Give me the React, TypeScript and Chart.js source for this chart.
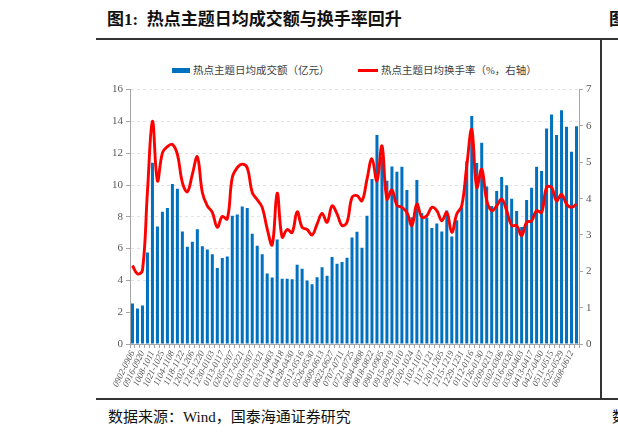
import React, { useEffect, useRef } from "react";
import { Chart, registerables } from "chart.js";

Chart.register(...registerables);

// 周度区间（每隔一周标注一次）
const weeks: string[] = [
  "0902-0906", "0909-0913", "0916-0920", "0923-0930", "1008-1011", "1014-1018", "1021-1025", "1028-1101", "1104-1108", "1111-1115",
  "1118-1122", "1125-1129", "1202-1206", "1209-1213", "1216-1220", "1223-1227", "1230-0103", "0106-0110", "0113-0117", "0120-0127",
  "0205-0207", "0210-0214", "0217-0221", "0224-0228", "0303-0307", "0310-0314", "0317-0321", "0324-0328", "0331-0403", "0407-0411",
  "0414-0418", "0421-0425", "0428-0430", "0506-0509", "0512-0516", "0519-0523", "0526-0530", "0603-0606", "0609-0613", "0616-0620",
  "0623-0627", "0630-0704", "0707-0711", "0714-0718", "0721-0725", "0728-0801", "0804-0808", "0811-0815", "0818-0822", "0825-0829",
  "0901-0905", "0908-0912", "0915-0919", "0922-0926", "0929-1010", "1013-1017", "1020-1024", "1027-1031", "1103-1107", "1110-1114",
  "1117-1121", "1124-1128", "1201-1205", "1208-1212", "1215-1219", "1222-1226", "1229-1231", "0105-0109", "0112-0116", "0119-0123",
  "0126-0130", "0202-0206", "0209-0213", "0224-0227", "0302-0306", "0309-0313", "0316-0320", "0323-0327", "0330-0403", "0407-0410",
  "0413-0417", "0420-0424", "0427-0430", "0506-0508", "0511-0515", "0518-0522", "0525-0529", "0601-0605", "0608-0612", "0615-0618",
];

// 热点主题日均成交额（亿元）
const dailyAmount: number[] = [
  2.55, 2.23, 2.42, 5.76, 11.4, 7.39, 8.31, 8.56, 10.06, 9.77,
  7.08, 6.12, 6.43, 7.22, 6.14, 5.95, 5.64, 4.78, 5.41, 5.51,
  8.06, 8.14, 8.64, 8.56, 6.93, 6.18, 5.64, 4.43, 4.18, 6.58,
  4.11, 4.11, 4.07, 4.99, 4.74, 3.99, 3.76, 4.2, 4.82, 4.3,
  5.47, 5.05, 5.16, 5.43, 6.7, 7.06, 6.05, 8.06, 10.38, 13.15,
  11.77, 10.27, 11.17, 10.84, 11.15, 9.69, 7.97, 10.31, 8.23, 7.95,
  7.29, 7.58, 7.08, 8.39, 6.76, 7.79, 8.58, 11.5, 14.34, 11.38,
  12.65, 9.9, 8.68, 9.62, 10.5, 9.98, 9.14, 8.37, 7.36, 9.06,
  9.83, 11.15, 10.88, 13.55, 14.43, 13.15, 14.7, 13.67, 12.09, 13.7,
];

// 热点主题日均换手率（%，右轴）
const turnoverRate: number[] = [
  2.16, 1.93, 2.03, 4.2, 6.13, 4.49, 5.26, 5.43, 5.49, 5.22,
  4.44, 4.19, 4.67, 5.15, 4.17, 3.8, 3.62, 3.21, 3.51, 3.44,
  4.58, 4.85, 4.95, 4.85, 4.17, 3.97, 3.76, 3.17, 2.73, 4.15,
  2.94, 3.15, 3.07, 3.64, 3.21, 3.15, 3.0, 3.3, 3.59, 3.35,
  3.8, 3.58, 3.26, 3.35, 4.03, 4.08, 3.94, 4.53, 5.1, 4.49,
  5.45, 3.99, 4.24, 3.82, 3.76, 3.62, 3.26, 3.85, 3.49, 3.53,
  3.76, 3.67, 3.39, 3.62, 3.07, 3.58, 3.8, 4.9, 5.9, 4.31,
  4.81, 3.95, 3.67, 3.8, 3.99, 3.67, 3.26, 3.26, 2.98, 3.35,
  3.39, 3.67, 3.62, 4.31, 4.31, 3.94, 4.12, 3.85, 3.76, 3.85,
];

const amountLabel = "热点主题日均成交额（亿元）";
const rateLabel = "热点主题日均换手率（%，右轴）";

const BLUE = "#0070C0";
const RED = "#FF0000";
const AXIS = "#a6a6a6";
const TICK_TEXT = "#595959";
const SERIF = "'Liberation Serif', 'Times New Roman', serif";
const CJK = "'Liberation Serif', 'Noto Sans CJK SC', serif";

// canvas box and plot area edges in page pixels
const CANVAS = { left: 90, top: 80, width: 520, height: 322 };
const PLOT = { left: 130, right: 579, top: 89, bottom: 344 };

function HotThemeChart() {
  const ref = useRef<HTMLCanvasElement | null>(null);

  useEffect(() => {
    if (!ref.current) return;
    const tickFont = { family: SERIF, size: 11 };
    const chart = new Chart(ref.current, {
      data: {
        labels: weeks,
        datasets: [
          {
            type: "line",
            label: rateLabel,
            data: turnoverRate,
            yAxisID: "y1",
            borderColor: RED,
            backgroundColor: RED,
            borderWidth: 2.9,
            pointRadius: 0,
            tension: 0.4,
            order: 0,
          },
          {
            type: "bar",
            label: amountLabel,
            data: dailyAmount,
            yAxisID: "y",
            backgroundColor: BLUE,
            borderWidth: 0,
            categoryPercentage: 1,
            barPercentage: 0.6,
            order: 1,
          },
        ],
      },
      options: {
        animation: false,
        responsive: false,
        maintainAspectRatio: false,
        layout: { padding: { top: PLOT.top - CANVAS.top, left: 0, right: 0, bottom: 0 } },
        plugins: { legend: { display: false }, tooltip: { enabled: false } },
        scales: {
          x: {
            offset: true,
            grid: {
              offset: true,
              drawOnChartArea: false,
              drawTicks: true,
              tickLength: 4,
              color: AXIS,
            },
            border: { color: AXIS },
            ticks: {
              autoSkip: false,
              maxRotation: 64,
              minRotation: 64,
              padding: 1,
              color: TICK_TEXT,
              font: { family: SERIF, size: 9, style: "italic" },
              callback: (_v: any, i: number) => (i % 2 === 0 ? weeks[i] : ""),
            },
            afterFit: (s: any) => {
              s.height = CANVAS.top + CANVAS.height - PLOT.bottom;
            },
          },
          y: {
            position: "left",
            min: 0,
            max: 16,
            ticks: { stepSize: 2, color: TICK_TEXT, font: tickFont, padding: 3 },
            grid: { color: "#e2e2e2", tickColor: AXIS, tickLength: 4 },
            border: { color: AXIS, dash: [3, 3] },
            afterFit: (s: any) => {
              s.width = PLOT.left - CANVAS.left;
            },
          },
          y1: {
            position: "right",
            min: 0,
            max: 7,
            ticks: { stepSize: 1, color: TICK_TEXT, font: tickFont, padding: 3 },
            grid: { drawOnChartArea: false, color: AXIS, tickLength: 4 },
            border: { color: AXIS },
            afterFit: (s: any) => {
              s.width = CANVAS.left + CANVAS.width - PLOT.right;
            },
          },
        },
      },
    } as any);
    return () => chart.destroy();
  }, []);

  return (
    <canvas
      ref={ref}
      width={CANVAS.width}
      height={CANVAS.height}
      style={{
        position: "absolute",
        left: CANVAS.left,
        top: CANVAS.top,
        width: CANVAS.width,
        height: CANVAS.height,
      }}
    />
  );
}

export default function App() {
  const rule = "#333";
  return (
    <div
      style={{
        position: "absolute",
        left: 0,
        top: 0,
        width: 618,
        height: 437,
        overflow: "hidden",
        background: "#fff",
      }}
    >
      <div
        style={{
          position: "absolute",
          left: 107,
          top: 8,
          fontFamily: CJK,
          fontWeight: 700,
          fontSize: 17,
          color: "#111",
          whiteSpace: "nowrap",
          lineHeight: "24px",
        }}
      >
        图1:&nbsp;&nbsp;热点主题日均成交额与换手率回升
      </div>
      <div
        style={{
          position: "absolute",
          left: 609,
          top: 8,
          fontFamily: CJK,
          fontWeight: 700,
          fontSize: 17,
          color: "#111",
          lineHeight: "24px",
          whiteSpace: "nowrap",
        }}
      >
        图
      </div>
      <div style={{ position: "absolute", left: 96, top: 38, width: 522, height: 2, background: rule }} />
      <div style={{ position: "absolute", left: 600, top: 39, width: 2, height: 361, background: rule }} />
      <div style={{ position: "absolute", left: 96, top: 398, width: 522, height: 2, background: rule }} />

      {/* legend */}
      <div style={{ position: "absolute", left: 172, top: 68, width: 18, height: 5, background: BLUE }} />
      <div
        style={{
          position: "absolute",
          left: 193,
          top: 63,
          fontFamily: CJK,
          fontSize: 10.5,
          lineHeight: "15px",
          color: "#404040",
          whiteSpace: "nowrap",
        }}
      >
        {amountLabel}
      </div>
      <div style={{ position: "absolute", left: 358, top: 69, width: 20, height: 3, background: RED }} />
      <div
        style={{
          position: "absolute",
          left: 381,
          top: 63,
          fontFamily: CJK,
          fontSize: 10.5,
          lineHeight: "15px",
          color: "#404040",
          whiteSpace: "nowrap",
        }}
      >
        {rateLabel}
      </div>

      <HotThemeChart />

      <div
        style={{
          position: "absolute",
          left: 108,
          top: 406,
          fontFamily: CJK,
          fontSize: 15,
          lineHeight: "22px",
          color: "#111",
          whiteSpace: "nowrap",
        }}
      >
        数据来源：Wind，国泰海通证券研究
      </div>
      <div
        style={{
          position: "absolute",
          left: 612,
          top: 406,
          fontFamily: CJK,
          fontSize: 15,
          lineHeight: "22px",
          color: "#111",
          whiteSpace: "nowrap",
        }}
      >
        数
      </div>
    </div>
  );
}
